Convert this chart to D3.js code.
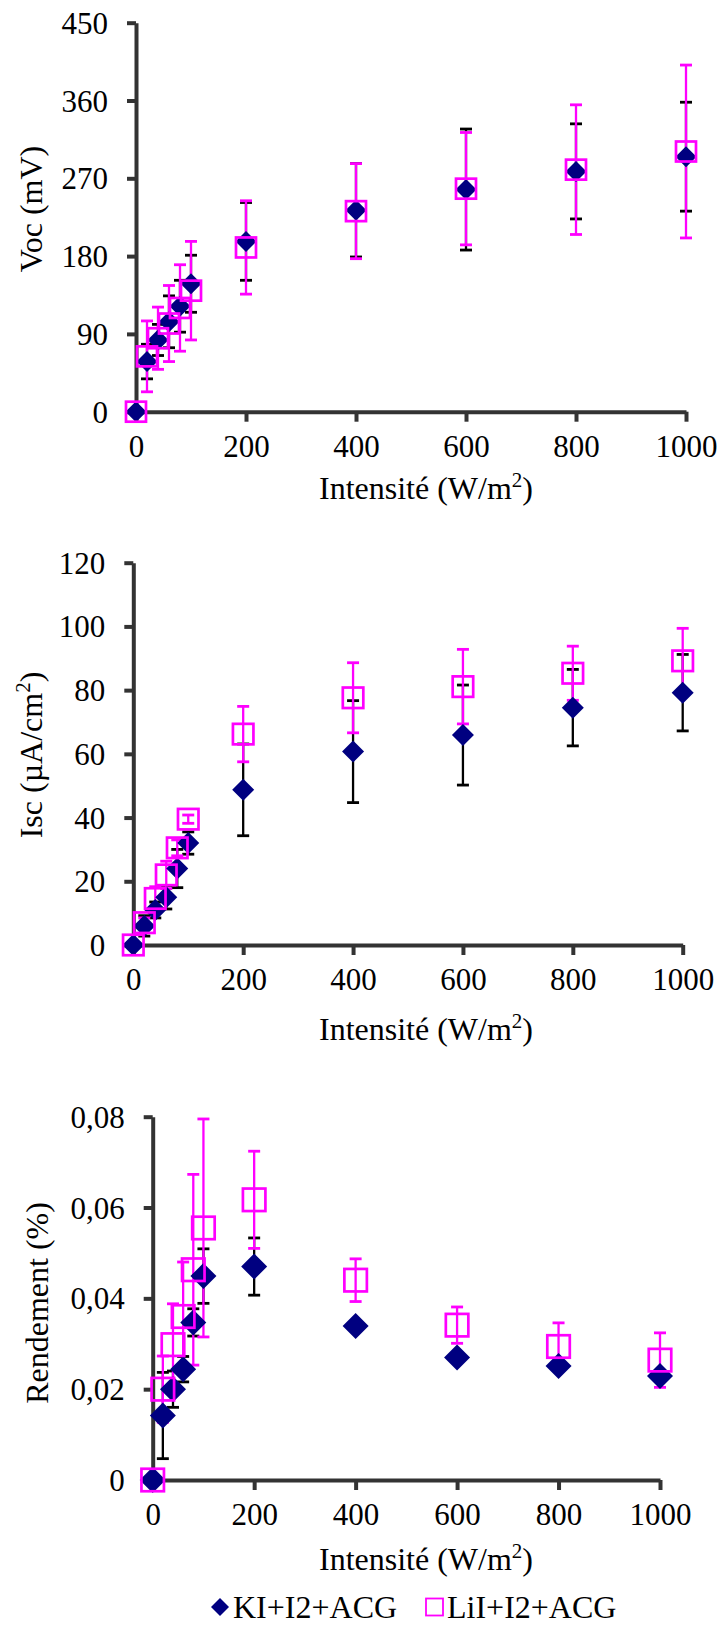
<!DOCTYPE html>
<html>
<head>
<meta charset="utf-8">
<script src="https://cdn.jsdelivr.net/npm/d3@7"></script>
<style>
  html, body { margin: 0; padding: 0; background: #fff; }
  svg { display: block; }
</style>
</head>
<body>
<svg id="chart" width="721" height="1631"></svg>
<script>
// ---------------- DATA ----------------
const intensity = [0, 20, 40, 60, 80, 100, 200, 400, 600, 800, 1000];
const xTicks = [0, 200, 400, 600, 800, 1000];

// Voc (mV)
const vocKI     = [0, 58, 83, 104, 122, 148, 197, 233, 257, 278, 295];
const vocKIErr  = [0, 20, 18, 30, 30, 33, 45, 54, 70, 55, 63];
const vocLiI    = [0, 64, 85, 102, 120, 140, 190, 232, 258, 280, 301];
const vocLiIErr = [0, 41, 36, 44, 50, 57, 54, 55, 65, 75, 100];
const vocTicks  = [0, 90, 180, 270, 360, 450];

// Isc (µA/cm²)
const iscKI     = [0, 6, 11, 15, 24, 32, 48.7, 60.7, 65.9, 74.5, 79.2];
const iscKIErr  = [0, 3.2, 2.5, 3.7, 6, 3.5, 14.4, 16, 15.7, 12, 12];
const iscLiI    = [0, 7, 14.6, 22, 30.5, 39.5, 66.2, 77.6, 81.1, 85.3, 89.2];
const iscLiIErr = [0, 1.5, 3.7, 4.3, 2.5, 1.3, 8.7, 11, 11.7, 8.5, 10.2];
const iscTicks  = [0, 20, 40, 60, 80, 100, 120];

// Rendement (%)
const rendKI     = [0, 0.0142, 0.020, 0.0244, 0.0347, 0.0449, 0.047, 0.0339, 0.0270, 0.0251, 0.0229];
const rendKIErr  = [0, 0.0095, 0.004, 0.0028, 0.003, 0.006, 0.0063, 0.001, 0.001, 0.001, 0.001];
const rendLiI    = [0, 0.020, 0.0298, 0.036, 0.0463, 0.0555, 0.0617, 0.044, 0.0341, 0.0294, 0.0264];
const rendLiIErr = [0, 0.0073, 0.009, 0.012, 0.021, 0.024, 0.0107, 0.0047, 0.004, 0.0052, 0.006];
const rendTicks  = [0, 0.02, 0.04, 0.06, 0.08];

const seriesNames = ["KI+I2+ACG", "LiI+I2+ACG"];

// ---------------- DRAW ----------------
const FONT = '"Liberation Serif", "Times New Roman", serif';
const svg = d3.select("#chart");
const AXIS = "#333333";
const NAVY = "#000080";
const MAG = "#FF00FF";

function txt(sel, size) {
  return sel.style("font-family", FONT).style("font-size", size + "px").attr("fill", "#000");
}

function panel(cfg) {
  const x = d3.scaleLinear().domain([0, 1000]).range([cfg.left, cfg.right]);
  const y = d3.scaleLinear().domain([0, cfg.ymax]).range([cfg.bottom, cfg.top]);
  const g = svg.append("g");

  const yAxis = d3.axisLeft(y).tickValues(cfg.yTicks).tickSizeInner(9).tickSizeOuter(0)
    .tickPadding(19).tickFormat(cfg.fmt);
  const xAxis = d3.axisBottom(x).tickValues(xTicks).tickSizeInner(10).tickSizeOuter(0)
    .tickPadding(14).tickFormat(d3.format("d"));

  const gy = g.append("g").attr("transform", `translate(${cfg.left},0)`).call(yAxis);
  const gx = g.append("g").attr("transform", `translate(0,${cfg.bottom})`).call(xAxis);
  [gx, gy].forEach(a => {
    a.attr("font-family", FONT).attr("font-size", 31);
    a.select(".domain").attr("stroke", AXIS).attr("stroke-width", 4);
    a.selectAll(".tick line").attr("stroke", AXIS).attr("stroke-width", 4);
    txt(a.selectAll(".tick text"), 31);
  });
  gx.selectAll(".tick text").attr("dy", "0.68em");
  gy.selectAll(".tick text").attr("dy", "0.34em");

  const pts = intensity.map((v, i) => ({
    x: v, k: cfg.ki[i], ke: cfg.kiErr[i], l: cfg.li[i], le: cfg.liErr[i]
  }));

  function errBars(key, errKey, color) {
    const eg = g.append("g");
    pts.filter(d => d[errKey] > 0).forEach(d => {
      const cx = x(d.x), y1 = y(d[key] + d[errKey]), y2 = y(d[key] - d[errKey]);
      eg.append("line").attr("x1", cx).attr("x2", cx).attr("y1", y1).attr("y2", y2)
        .attr("stroke", color).attr("stroke-width", 2.3);
      [y1, y2].forEach(yy => eg.append("line")
        .attr("x1", cx - 6).attr("x2", cx + 6).attr("y1", yy).attr("y2", yy)
        .attr("stroke", color).attr("stroke-width", 2.8));
    });
  }
  errBars("k", "ke", "#000");
  errBars("l", "le", MAG);

  const dh = cfg.diamond;
  g.append("g").selectAll("path").data(pts).join("path")
    .attr("d", d => {
      const cx = x(d.x), cy = y(d.k);
      return `M${cx},${cy - dh}L${cx + dh},${cy}L${cx},${cy + dh}L${cx - dh},${cy}Z`;
    })
    .attr("fill", NAVY);

  const s = cfg.square;
  g.append("g").selectAll("rect").data(pts).join("rect")
    .attr("x", d => x(d.x) - s / 2).attr("y", d => y(d.l) - s / 2)
    .attr("width", s).attr("height", s)
    .attr("fill", "none").attr("stroke", MAG).attr("stroke-width", 2.7);

  const yt = txt(g.append("text"), 32)
    .attr("transform", `translate(${cfg.yTitleX},${cfg.yTitleY}) rotate(-90)`)
    .attr("text-anchor", "middle");
  cfg.yTitle(yt);

  const xt = txt(g.append("text"), 32).attr("x", 426).attr("y", cfg.xTitleY)
    .attr("text-anchor", "middle");
  xt.append("tspan").text("Intensité (W/m");
  xt.append("tspan").text("2").style("font-size", "21px").attr("dy", "-12");
  xt.append("tspan").text(")").attr("dy", "12");
}

panel({
  left: 136, right: 686, top: 22.7, bottom: 411.7, ymax: 450, yTicks: vocTicks,
  fmt: d3.format("d"), ki: vocKI, kiErr: vocKIErr, li: vocLiI, liErr: vocLiIErr,
  diamond: 10.5, square: 20, yTitleX: 42, yTitleY: 209, xTitleY: 499,
  yTitle: t => t.text("Voc (mV)")
});

panel({
  left: 133.3, right: 682.7, top: 562.7, bottom: 945, ymax: 120, yTicks: iscTicks,
  fmt: d3.format("d"), ki: iscKI, kiErr: iscKIErr, li: iscLiI, liErr: iscLiIErr,
  diamond: 11, square: 20.5, yTitleX: 42, yTitleY: 755, xTitleY: 1040,
  yTitle: t => {
    t.append("tspan").text("Isc (µA/cm");
    t.append("tspan").text("2").style("font-size", "21px").attr("dy", "-12");
    t.append("tspan").text(")").attr("dy", "12");
  }
});

panel({
  left: 152.7, right: 660, top: 1116.7, bottom: 1480, ymax: 0.08, yTicks: rendTicks,
  fmt: d => d === 0 ? "0" : d.toFixed(2).replace(".", ","),
  ki: rendKI, kiErr: rendKIErr, li: rendLiI, liErr: rendLiIErr,
  diamond: 13, square: 22.5, yTitleX: 48, yTitleY: 1303, xTitleY: 1570,
  yTitle: t => t.text("Rendement (%)")
});

// legend
const lg = svg.append("g");
const ly = 1607;
lg.append("path").attr("d", `M220,${ly - 9}L229,${ly}L220,${ly + 9}L211,${ly}Z`).attr("fill", NAVY);
txt(lg.append("text"), 32).attr("x", 233).attr("y", ly + 11).text(seriesNames[0]);
lg.append("rect").attr("x", 426).attr("y", ly - 8.5).attr("width", 17).attr("height", 17)
  .attr("fill", "none").attr("stroke", MAG).attr("stroke-width", 1.8);
txt(lg.append("text"), 32).attr("x", 447).attr("y", ly + 11).text(seriesNames[1]);
</script>
</body>
</html>
